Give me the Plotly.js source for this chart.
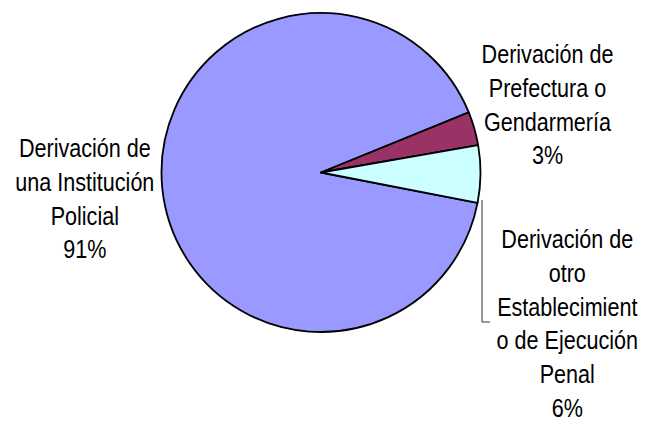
<!DOCTYPE html>
<html>
<head>
<meta charset="utf-8">
<script src="https://cdn.plot.ly/plotly-3.0.1.min.js"></script>
<style>html,body{margin:0;padding:0;background:#fff;}#chart{width:646px;height:421px;}</style>
</head>
<body>
<div id="chart"></div>
<script>
// Data
var labels = [
  "Derivación de<br>una Institución<br>Policial",
  "Derivación de<br>Prefectura o<br>Gendarmería",
  "Derivación de<br>otro<br>Establecimient<br>o de Ejecución<br>Penal"
];
var values = [90.8, 3.4, 5.8];
var colors = ["#9999FF", "#993366", "#CCFFFF"];

// Label placement (paper coords)
var labelX = [0.132, 0.848, 0.879];
var labelY = [0.528, 0.752, 0.232];

var W = 646, H = 421;
var cx = 321, cy = 172.5, r = 159.5;

var total = values.reduce(function(a, b){ return a + b; }, 0);
var pct = values.map(function(v){ return Math.round(v / total * 100) + "%"; });

var annotations = labels.map(function(l, i){
  return {
    text: l + "<br>" + pct[i],
    xref: "paper", yref: "paper",
    x: labelX[i], y: labelY[i],
    xanchor: "center", yanchor: "middle",
    showarrow: false, align: "center",
    font: {family: "'Liberation Sans', Arial, sans-serif", size: 26, color: "#000"}
  };
});

var trace = {
  type: "pie",
  labels: ["Institución Policial", "Prefectura o Gendarmería", "otro Establecimiento"],
  values: values,
  sort: false,
  direction: "clockwise",
  rotation: 101,
  textinfo: "none",
  hoverinfo: "none",
  marker: {colors: colors, line: {color: "#000", width: 1.8}},
  domain: {x: [(cx - r) / W, (cx + r) / W], y: [1 - (cy + r) / H, 1 - (cy - r) / H]}
};

var layout = {
  width: W, height: H,
  margin: {l: 0, r: 0, t: 0, b: 0},
  paper_bgcolor: "#fff",
  showlegend: false,
  annotations: annotations,
  shapes: [{
    type: "path", xref: "paper", yref: "paper",
    path: "M " + (482 / W) + " " + (1 - 200 / H) + " L " + (482 / W) + " " + (1 - 322 / H) + " L " + (490 / W) + " " + (1 - 322 / H),
    line: {color: "#333", width: 1}
  }]
};

Plotly.newPlot("chart", [trace], layout, {displayModeBar: false, staticPlot: true}).then(function(){
  // condense label text horizontally to mimic a narrow typeface
  var texts = document.querySelectorAll(".annotation-text-g text");
  texts.forEach(function(t){
    var bb = t.getBBox();
    var c = bb.x + bb.width / 2;
    t.setAttribute("transform", "translate(" + c + ",0) scale(0.83,1) translate(" + (-c) + ",0)");
  });
});
</script>
</body>
</html>
